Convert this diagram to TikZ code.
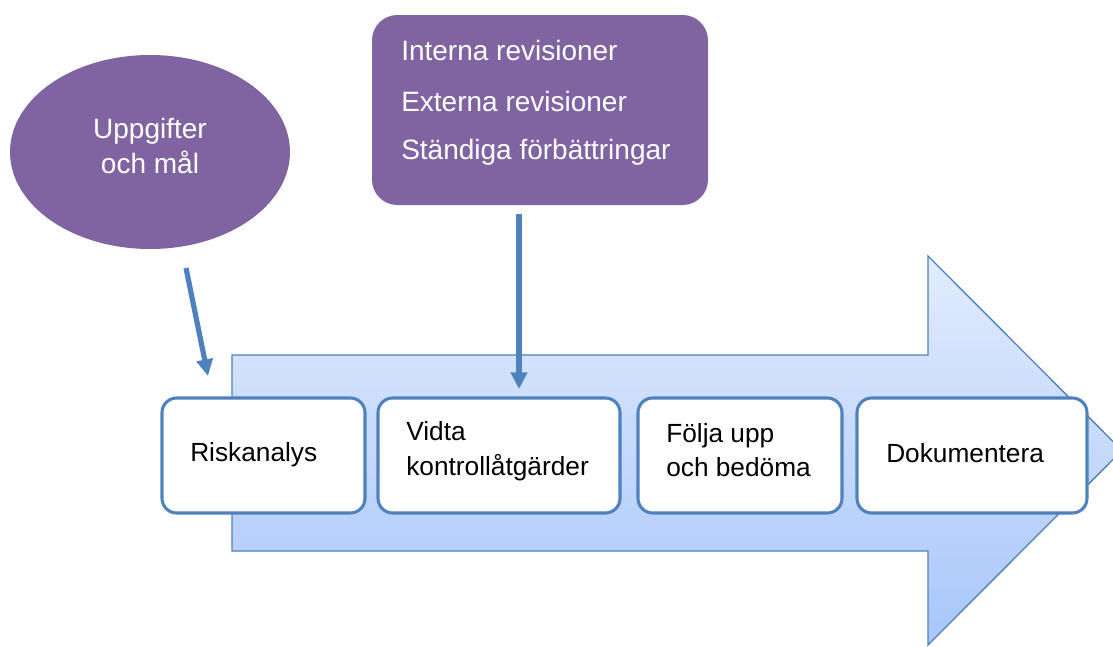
\documentclass[tikz,border=0pt]{standalone}
\usepackage{fontspec}
\setmainfont{Liberation Sans}
\usetikzlibrary{arrows.meta,shapes.geometric}
\definecolor{purp}{HTML}{8064A2}
\definecolor{blu}{HTML}{4F81BD}
\definecolor{ltop}{HTML}{E2ECFD}
\definecolor{lbot}{HTML}{A8C6FA}
\begin{document}
\begin{tikzpicture}[x=0.75pt,y=-0.75pt,
  stepbox/.style={draw=blu,line width=2.3pt,fill=white,rounded corners=11pt,inner sep=0pt},
  steptext/.style={font=\fontsize{19.7pt}{26pt}\selectfont,align=left,anchor=west,inner sep=0pt},
  purptext/.style={font=\fontsize{21pt}{26pt}\selectfont,text=white,anchor=west,inner sep=0pt},
  conn/.style={draw=blu,line width=3.9pt,-{Triangle[width=12pt,length=12.5pt]}}]
\useasboundingbox (0,0) rectangle (1113,646);
\begin{scope}
\clip (0,0) rectangle (1113,646);
\shade[top color=ltop,bottom color=lbot] (232,355) -- (928,355) -- (928,256) -- (1122,450.5) -- (928,645) -- (928,551) -- (232,551) -- cycle;
\draw[blu,line width=1pt] (232,355) -- (928,355) -- (928,256) -- (1122,450.5) -- (928,645) -- (928,551) -- (232,551) -- cycle;
\end{scope}
% boxes
\node[stepbox,minimum width=203*0.75pt,minimum height=115*0.75pt] (b1) at (263.5,455.5) {};
\node[stepbox,minimum width=242*0.75pt,minimum height=115*0.75pt] (b2) at (499,455.5) {};
\node[stepbox,minimum width=204*0.75pt,minimum height=115*0.75pt] (b3) at (740,455.5) {};
\node[stepbox,minimum width=230*0.75pt,minimum height=115*0.75pt] (b4) at (972,455.5) {};
\node[steptext] (t1) at (190,455) {Riskanalys};
\node[steptext] (t2) at (406,451) {Vidta\\kontrollåtgärder};
\node[steptext] (t3) at (666,450) {Följa upp\\och bedöma};
\node[steptext] (t4) at (886,453) {Dokumentera};
% ellipse
\node[ellipse,fill=purp,minimum width=280*0.75pt,minimum height=194*0.75pt,inner sep=0pt] (ell) at (150,152) {};
\node[font=\fontsize{21pt}{26.5pt}\selectfont,text=white,align=center,inner sep=0pt] (et) at (150,146) {Uppgifter\\och mål};
% purple box
\node[fill=purp,rounded corners=19pt,minimum width=336*0.75pt,minimum height=190*0.75pt,inner sep=0pt] (pb) at (540,110) {};
\node[purptext] (p1) at (401,50) {Interna revisioner};
\node[purptext] (p2) at (401,101) {Externa revisioner};
\node[purptext] (p3) at (401,152) {Ständiga förbättringar};
% connectors
\coordinate (a1s) at (186,268);
\coordinate (a1e) at (208,376);
\coordinate (a2s) at (519,214);
\coordinate (a2e) at (519,389);
\draw[conn] (a1s) -- (a1e);
\draw[conn] (a2s) -- (a2e);
\end{tikzpicture}
\end{document}
